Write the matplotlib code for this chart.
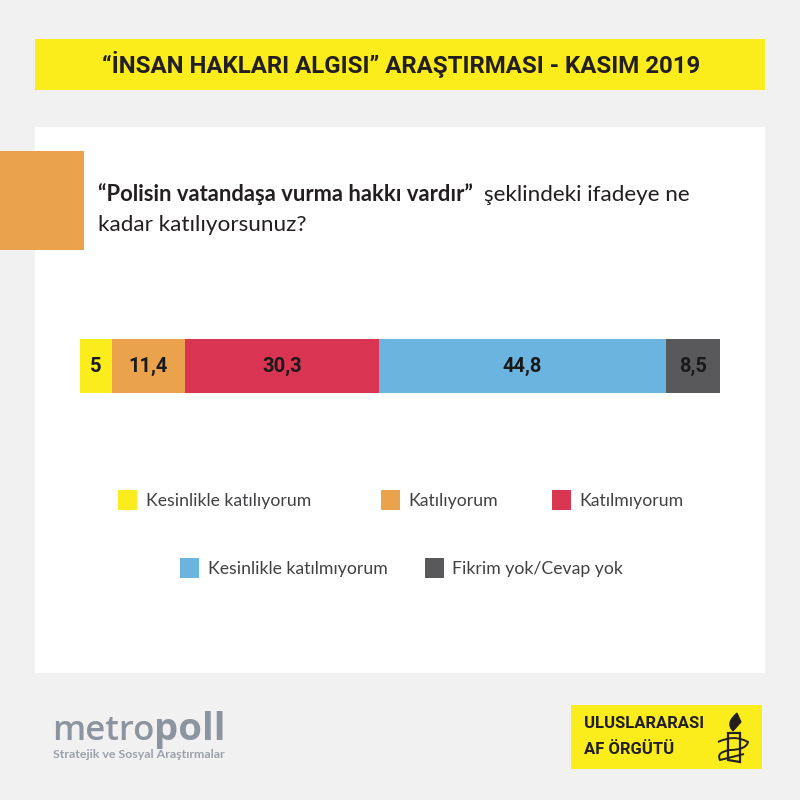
import matplotlib
matplotlib.use("Agg")
import matplotlib.pyplot as plt
from matplotlib.patches import Rectangle, Polygon, PathPatch
from matplotlib.path import Path

# Data
categories = ["Kesinlikle katılıyorum", "Katılıyorum", "Katılmıyorum",
              "Kesinlikle katılmıyorum", "Fikrim yok/Cevap yok"]
values = [5, 11.4, 30.3, 44.8, 8.5]
value_labels = ["5", "11,4", "30,3", "44,8", "8,5"]
colors = ["#fbec1c", "#eba24c", "#d93553", "#6bb4e0", "#59595b"]

BG = "#f1f1f1"
YELLOW = "#fbec1c"
INK = "#231f20"
HEAD = ["Roboto", "Liberation Sans", "DejaVu Sans"]
BODY = ["Lato", "DejaVu Sans"]

fig = plt.figure(figsize=(8, 8), dpi=100, facecolor=BG)

# page layer in pixel coordinates
page = fig.add_axes([0, 0, 1, 1])
page.set_xlim(0, 800)
page.set_ylim(800, 0)
page.axis("off")

page.add_patch(Rectangle((35, 39), 730, 51, color=YELLOW, lw=0))
page.text(401, 65, "“İNSAN HAKLARI ALGISI” ARAŞTIRMASI - KASIM 2019", family=HEAD,
          fontweight="bold", fontsize=17.3, color=INK, ha="center", va="center")

page.add_patch(Rectangle((35, 127), 730, 546, color="white", lw=0))
page.add_patch(Rectangle((0, 151), 84, 99, color="#eba24c", lw=0))

page.text(98, 194, "“Polisin vatandaşa vurma hakkı vardır”", family=BODY,
          fontweight="bold", fontsize=15.8, color=INK, va="center")
page.text(484, 195, "şeklindeki ifadeye ne", family=BODY, fontsize=16.2,
          color=INK, va="center")
page.text(98, 225, "kadar katılıyorsunuz?", family=BODY, fontsize=16.2,
          color=INK, va="center")

# legend, placed by hand like the original
legend_pos = [(118, 490), (381, 490), (552, 490), (180, 558), (425, 558)]
for (lx, ly), cat, col in zip(legend_pos, categories, colors):
    page.add_patch(Rectangle((lx, ly), 19, 20, color=col, lw=0))
    page.text(lx + 27.5, ly + 11, cat, family=BODY, fontsize=12.7,
              color="#414042", va="center")

# metropoll logo
page.text(52, 740, "metro", family=["Open Sans", "DejaVu Sans"], fontweight="semibold",
          fontsize=25, color="#8c94a0", va="baseline")
page.text(154, 740, "poll", family=["Open Sans", "DejaVu Sans"], fontweight="bold",
          fontsize=27.5, color="#8c94a0", va="baseline")
page.text(53, 754, "Stratejik ve Sosyal Araştırmalar", family=BODY, fontweight="bold",
          fontsize=8.9, color="#9ba1ab", va="center")

# amnesty logo
page.add_patch(Rectangle((571, 705), 191, 64, color=YELLOW, lw=0))
page.text(584, 724, "ULUSLARARASI", family=HEAD, fontweight="bold", fontsize=12,
          color=INK, va="center")
page.text(584, 750, "AF ÖRGÜTÜ", family=HEAD, fontweight="bold", fontsize=12,
          color=INK, va="center")
page.add_patch(Polygon([(728, 733), (740, 733), (740, 762), (728, 760)], closed=True,
                       fill=False, ec=INK, lw=1.6))
flame = Path([(733, 731), (725, 723), (737, 713), (741, 722), (733, 731)],
             [Path.MOVETO, Path.CURVE3, Path.CURVE3, Path.LINETO, Path.LINETO])
page.add_patch(PathPatch(flame, fc=INK, ec=INK, lw=0.8))
wire = Path([(718, 742), (734, 734), (748, 742), (746, 750), (730, 750), (716, 752), (720, 760), (744, 754)],
            [Path.MOVETO, Path.CURVE3, Path.CURVE3, Path.CURVE3, Path.CURVE3, Path.CURVE3, Path.CURVE3, Path.LINETO])
page.add_patch(PathPatch(wire, fc="none", ec=INK, lw=1.4))

# stacked bar
ax = fig.add_axes([80 / 800, 1 - 393 / 800, 640 / 800, 54 / 800])
ax.set_xlim(0, sum(values))
ax.set_ylim(0, 1)
ax.axis("off")
left = 0
for v, lab, col in zip(values, value_labels, colors):
    ax.barh(0.5, v, left=left, height=1, color=col, lw=0)
    ax.text(left + v / 2, 0.5, lab, family=HEAD, fontweight="bold", fontsize=14.5,
            color="#1a1a1a", ha="center", va="center")
    left += v

fig.savefig("out.png", dpi=100, facecolor=BG)
